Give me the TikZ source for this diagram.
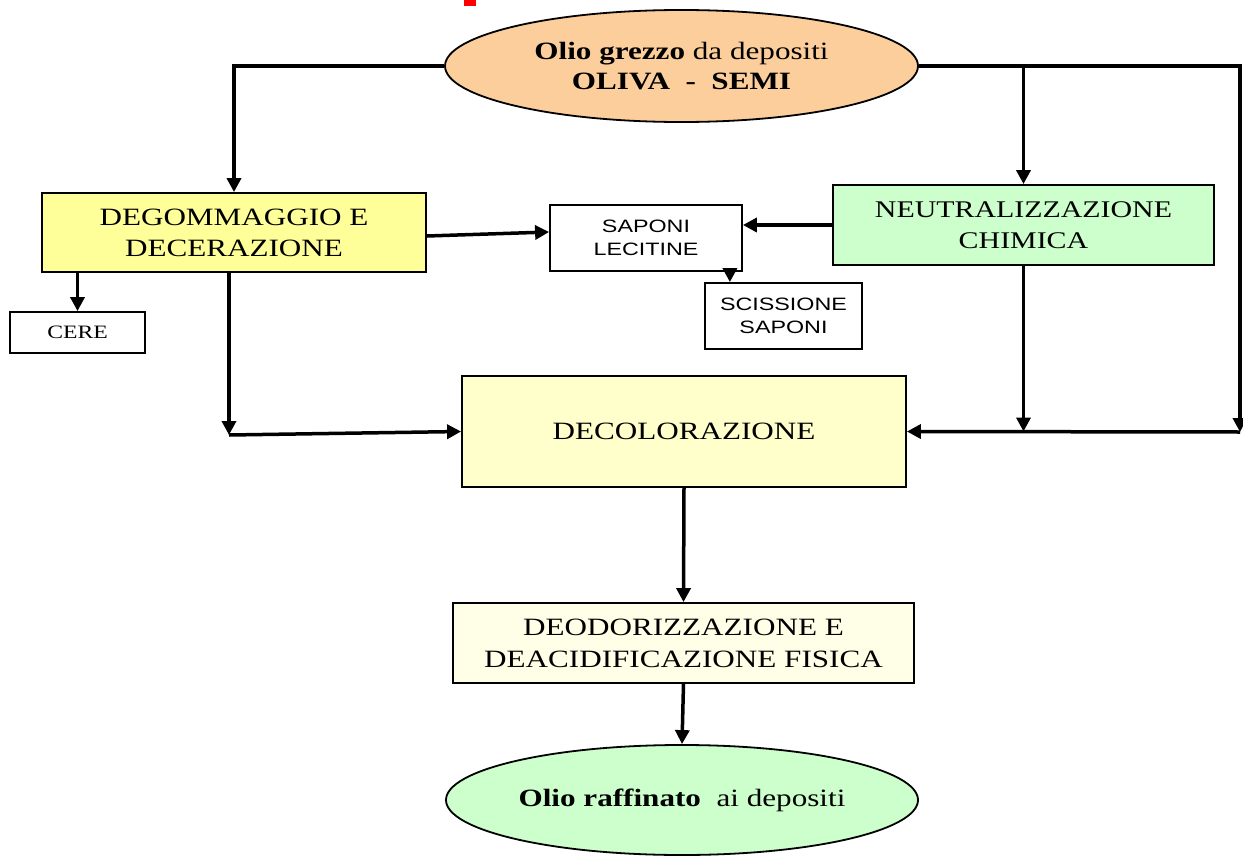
\documentclass[tikz,border=0pt]{standalone}
\usepackage{fontspec}
\setmainfont{Liberation Serif}[FakeStretch=1.25]
\setsansfont{Liberation Sans}[FakeStretch=1.3]
\usetikzlibrary{shapes.geometric,arrows.meta}
\definecolor{peach}{RGB}{252,206,156}
\definecolor{paleyellow}{RGB}{255,255,153}
\definecolor{palegreen}{RGB}{204,255,204}
\definecolor{cream}{RGB}{255,255,204}
\definecolor{ivory}{RGB}{255,255,232}
\begin{document}
\begin{tikzpicture}[x=1bp,y=-1bp,
  box/.style={draw, line width=1.8bp, rectangle, inner sep=0pt, align=center},
  oval/.style={draw, line width=1.8bp, ellipse, inner sep=0pt, align=center},
  arr/.style={line width=3.5bp, -{Triangle[length=14bp,width=14bp]}}]
\useasboundingbox (0,0) rectangle (1243,858);
\fill[red] (464,0) rectangle (476,6);
% boxes
\node[oval, fill=peach, minimum width=473bp, minimum height=112bp, font=\fontsize{25}{30}\selectfont] (grezzo) at (681.5,66)
  {\textbf{Olio grezzo} da depositi\\\textbf{OLIVA\ \ -\ \ SEMI}};
\node[box, fill=paleyellow, minimum width=384bp, minimum height=79bp, font=\fontsize{25}{31}\selectfont] (degomm) at (234,232.5)
  {DEGOMMAGGIO E\\DECERAZIONE};
\node[box, fill=white, minimum width=135bp, minimum height=41bp, font=\fontsize{19}{22}\selectfont] (cere) at (77.5,332.5)
  {CERE};
\node[box, fill=white, minimum width=192bp, minimum height=66bp, font=\sffamily\fontsize{18}{23}\selectfont] (saponi) at (646,238)
  {SAPONI\\LECITINE};
\node[box, fill=white, minimum width=157bp, minimum height=66bp, font=\sffamily\fontsize{18}{23}\selectfont] (sciss) at (783.5,316)
  {SCISSIONE\\SAPONI};
\node[box, fill=palegreen, minimum width=381bp, minimum height=80bp, font=\fontsize{24}{31}\selectfont] (neutral) at (1023.5,225)
  {NEUTRALIZZAZIONE\\CHIMICA};
\node[box, fill=cream, minimum width=444bp, minimum height=111bp, font=\fontsize{25}{30}\selectfont] (decol) at (684,431.5)
  {DECOLORAZIONE};
\node[box, fill=ivory, minimum width=461bp, minimum height=80bp, font=\fontsize{25}{32}\selectfont] (deodor) at (683.5,643)
  {DEODORIZZAZIONE E\\DEACIDIFICAZIONE FISICA};
\node[oval, fill=palegreen, minimum width=472bp, minimum height=110bp, font=\fontsize{25}{30}\selectfont] (raff) at (682,800)
  {\textbf{Olio raffinato}\ \ ai depositi};
% corners
\coordinate (rt) at (1240,66);
\coordinate (rb) at (1240,432);
\coordinate (lc) at (229,435);
% arrows
\draw[arr] (grezzo.west) -| (degomm.north);
\draw[arr] (grezzo.east) -- (rt) -- (rb);
\draw[arr] (rb) -- (decol.east);
\draw[arr] (grezzo.east -| neutral.north) -- (neutral.north);
\draw[arr] ([yshift=-3.5bp]degomm.east) -- ([yshift=6bp]saponi.west);
\draw[arr] (neutral.west) -- (neutral.west -| saponi.east);
\draw[arr] ([xshift=-13bp]saponi.south east) -- ([xshift=-13bp]saponi.south east |- sciss.north);
\draw[arr] (degomm.south -| cere.north) -- (cere.north);
\draw[arr] (degomm.south -| lc) -- (lc);
\draw[arr] (lc) -- (decol.west);
\draw[arr] (neutral.south) -- (neutral.south |- decol.east);
\draw[arr] (decol.south) -- (deodor.north);
\draw[arr] (deodor.south) -- (raff.north);
\end{tikzpicture}
\end{document}
